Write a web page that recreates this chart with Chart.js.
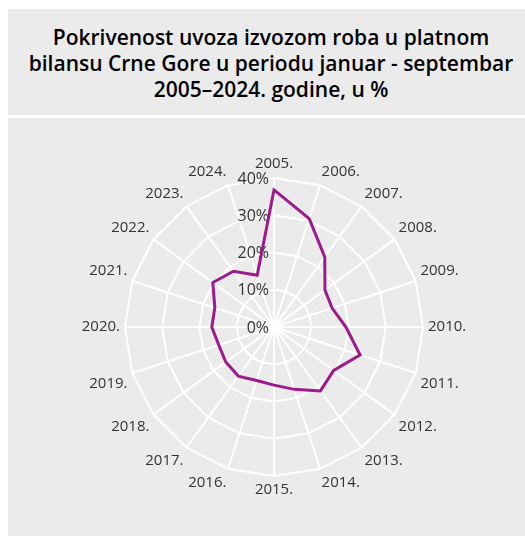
<!DOCTYPE html>
<html>
<head>
<meta charset="utf-8">
<script src="https://cdn.jsdelivr.net/npm/chart.js@4.4.1/dist/chart.umd.min.js"></script>
<style>
  html, body { margin: 0; padding: 0; background: #ffffff; overflow: hidden; width: 525px; height: 536px; }
  #title {
    position: absolute; left: 8px; top: 9px; width: 526px; height: 106px;
    background: #ebebeb; box-sizing: border-box; padding-top: 15px;
    font-family: "Open Sans", sans-serif; font-weight: 600; font-size: 21px; line-height: 26px;
    text-align: center; color: #000000;
  }
  #panel { position: absolute; left: 8px; top: 118px; width: 517px; height: 418px; background: #ebebeb; }
  #panel canvas { display: block; }
</style>
</head>
<body>
<div id="title">Pokrivenost uvoza izvozom roba u platnom<br>bilansu Crne Gore u periodu januar - septembar<br>2005–2024. godine, u %</div>
<div id="panel"><canvas id="c" width="517" height="418"></canvas></div>
<script>
const years = ['2005.', '2006.', '2007.', '2008.', '2009.', '2010.', '2011.', '2012.', '2013.', '2014.',
               '2015.', '2016.', '2017.', '2018.', '2019.', '2020.', '2021.', '2022.', '2023.', '2024.'];
const coverage = [36.8, 30.6, 23.2, 16.9, 16.4, 19.3, 24.3, 19.8, 21.2, 17.6,
                  15.6, 15.1, 16.3, 16.0, 15.6, 16.7, 16.7, 20.3, 18.5, 14.6];
const tickValues = [0, 10, 20, 30, 40];
const tickLabels = ['0%', '10%', '20%', '30%', '40%'];

const tickLabelPlugin = {
  id: 'tickLabelPlugin',
  beforeDatasetsDraw(chart) {
    const scale = chart.scales.r;
    const ctx = chart.ctx;
    ctx.save();
    ctx.font = '16px "Open Sans"';
    ctx.fillStyle = '#333333';
    ctx.textAlign = 'right';
    ctx.textBaseline = 'middle';
    tickValues.forEach((v, i) => {
      const d = scale.getDistanceFromCenterForValue(v);
      ctx.fillText(tickLabels[i], scale.xCenter - 5, scale.yCenter - d + 1);
    });
    ctx.restore();
  }
};

new Chart(document.getElementById('c'), {
  type: 'radar',
  data: {
    labels: years,
    datasets: [{
      data: coverage,
      borderColor: '#9c1b8b',
      borderWidth: 3,
      fill: false,
      pointRadius: 0,
      pointHoverRadius: 0,
      tension: 0
    }]
  },
  options: {
    responsive: false,
    animation: false,
    devicePixelRatio: 1,
    layout: { padding: { top: 37, bottom: 37, left: 15, right: 0 } },
    plugins: { legend: { display: false }, tooltip: { enabled: false } },
    scales: {
      r: {
        min: 0,
        max: 40,
        ticks: { stepSize: 10, display: false },
        grid: { color: '#ffffff', lineWidth: 2, circular: false },
        angleLines: { color: '#ffffff', lineWidth: 2 },
        pointLabels: { font: { family: 'Open Sans', size: 15 }, color: '#333333', padding: 5 }
      }
    }
  },
  plugins: [tickLabelPlugin]
});
</script>
</body>
</html>
